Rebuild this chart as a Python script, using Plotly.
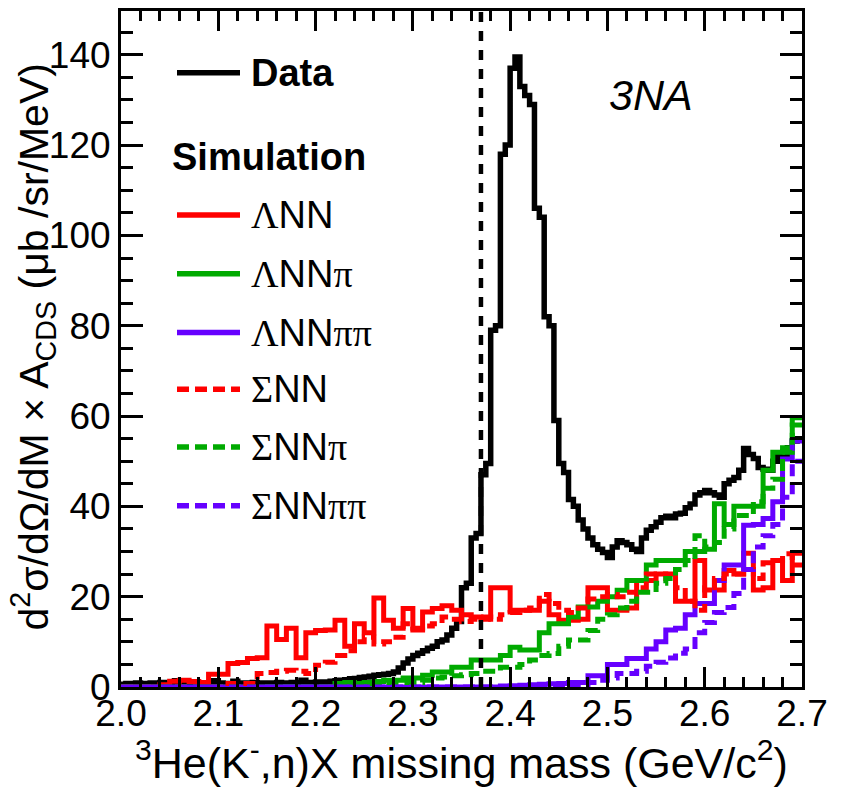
import plotly.graph_objects as go

# Missing-mass window and histogram binning (GeV/c^2)
M_MIN, M_MAX = 2.0, 2.7
DATA_BIN = 0.005
SIM_BIN = 0.010
KPP_THRESHOLD = 2.370  # K- p p mass threshold

# Measured spectrum, 5 MeV bins from 2.000 to 2.700
data_xs = [
    0.6, 0.8, 0.7, 0.9, 0.8, 0.6, 0.9, 0.8, 1.0, 0.7,
    0.8, 1.4, 0.8, 0.7, 0.9, 0.8, 0.9, 0.7, 0.8, 1.4,
    0.9, 0.8, 0.8, 1.3, 0.9, 0.8, 0.9, 1.0, 0.8, 0.9,
    0.8, 0.9, 1.0, 0.9, 0.8, 1.0, 1.0, 1.5, 0.9, 1.0,
    1.1, 1.0, 1.1, 1.3, 1.4, 1.5, 1.6, 1.8, 1.9, 2.1,
    2.2, 2.4, 2.6, 2.7, 2.8, 3.0, 3.3, 4.2, 5.3, 6.2,
    7.0, 7.5, 8.0, 8.6, 9.0, 10.0, 10.4, 11.5, 13.0, 14.5,
    22.0, 23.0, 33.0, 34.0, 47.0, 49.5, 79.0, 80.0, 118.0, 120.0,
    137.0, 139.5, 133.0, 131.0, 129.0, 106.0, 104.0, 82.0, 80.0, 59.0,
    49.5, 47.5, 41.5, 40.0, 37.0, 35.0, 33.0, 31.5, 30.5, 29.8,
    28.7, 31.0, 32.4, 32.0, 31.5, 30.5, 30.0, 33.0, 34.7, 35.5,
    36.5, 37.5, 37.8, 37.5, 38.3, 38.5, 39.7, 40.5, 42.5, 43.0,
    43.5, 43.0, 42.5, 42.0, 45.0, 45.8, 46.4, 48.0, 52.8, 51.5,
    50.6, 48.6, 48.2, 48.0, 50.0, 51.0, 51.5, 53.0, 54.5, 55.0,
]

# Simulated channels, 10 MeV bins from 2.00 to 2.70
lam_nn = [
    0, 0, 0, 0, 0.5, 1.3, 1.5, 1.2, 1.0, 2.8,
    2.8, 5.2, 5.4, 6.3, 6.5, 13.5, 10.5, 13.0, 6.5, 12.0,
    12.5, 12.6, 14.8, 9.0, 14.0, 12.0, 19.7, 14.8, 13.0, 17.4,
    12.6, 16.6, 17.4, 18.0, 17.0, 16.0, 15.5, 15.0, 22.0, 22.0,
    17.0, 17.0, 17.0, 19.0, 16.0, 14.8, 14.8, 15.0, 22.0, 22.0,
    17.0, 17.0, 17.5, 23.6, 23.6, 25.0, 25.0, 19.0, 19.0, 28.0,
    21.5, 21.5, 25.8, 25.0, 29.6, 21.5, 22.0, 28.0, 23.6, 29.6,
]
lam_nn_pi = [
    0, 0, 0, 0, 0, 0, 0, 0, 0, 0,
    0, 0, 0, 0, 0, 0, 0, 0, 0, 0,
    0, 0, 0.8, 1.0, 0.8, 1.0, 1.2, 1.5, 1.5, 2.0,
    2.0, 2.6, 3.3, 3.3, 4.4, 4.4, 6.0, 6.0, 6.0, 7.0,
    8.8, 8.2, 8.2, 12.0, 14.0, 14.0, 15.5, 17.7, 17.7, 19.0,
    20.0, 21.4, 23.6, 23.6, 27.0, 28.0, 28.0, 28.0, 30.0, 30.0,
    30.5, 40.6, 36.0, 40.0, 40.0, 40.0, 48.0, 52.0, 53.0, 59.6,
]
lam_nn_pipi = [
    0, 0, 0, 0, 0, 0, 0, 0, 0, 0,
    0, 0, 0, 0, 0, 0, 0, 0, 0, 0,
    0, 0, 0, 0, 0, 0, 0, 0, 0, 0,
    0, 0, 0, 0, 0, 0, 0, 0, 0, 0.2,
    0.3, 0.4, 0.5, 0.6, 0.7, 0.8, 1.0, 1.0, 2.5, 2.5,
    5.0, 5.0, 6.3, 6.3, 8.4, 10.0, 12.6, 13.0, 16.0, 18.5,
    18.5, 23.6, 27.0, 27.0, 35.8, 36.0, 37.3, 41.0, 50.5, 54.5,
]
sig_nn = [
    0, 0, 0, 0, 0, 0, 0, 0, 0, 0,
    0, 0.8, 0.8, 0.8, 3.0, 3.2, 3.5, 3.7, 3.5, 3.0,
    4.8, 5.5, 7.0, 8.0, 10.0, 11.0, 9.5, 10.0, 11.0, 14.0,
    13.0, 13.5, 14.0, 15.5, 15.0, 14.5, 15.0, 15.5, 15.0, 16.0,
    16.5, 17.0, 17.5, 20.5, 18.5, 17.0, 16.5, 17.5, 19.5, 20.0,
    20.5, 20.0, 21.0, 22.0, 25.0, 25.0, 24.0, 22.0, 19.0, 17.0,
    22.0, 24.0, 25.0, 25.0, 26.0, 24.0, 27.5, 28.0, 29.5, 27.0,
]
sig_nn_pi = [
    0, 0, 0, 0, 0, 0, 0, 0, 0, 0,
    0, 0, 0, 0, 0, 0, 0, 0, 0, 0,
    0, 0, 0, 0.5, 0.7, 0.7, 0.7, 1.0, 1.0, 1.0,
    1.0, 1.5, 2.0, 2.2, 2.5, 2.7, 3.0, 3.5, 3.5, 4.4,
    4.4, 5.0, 6.0, 7.0, 7.4, 9.0, 10.4, 10.4, 12.5, 15.0,
    16.0, 17.5, 19.0, 21.0, 21.0, 23.0, 24.0, 26.0, 28.0, 33.5,
    31.0, 32.0, 35.0, 38.0, 38.0, 41.0, 44.0, 46.0, 52.0, 58.0,
]
sig_nn_pipi = [
    0, 0, 0, 0, 0, 0, 0, 0, 0, 0,
    0, 0, 0, 0, 0, 0, 0, 0, 0, 0,
    0, 0, 0, 0, 0, 0, 0, 0, 0, 0,
    0, 0, 0, 0, 0, 0, 0, 0, 0, 0,
    0, 0, 0, 0, 0, 0, 0.5, 0.5, 1.0, 1.5,
    2.0, 3.0, 3.0, 3.5, 4.6, 5.5, 6.4, 7.5, 8.4, 12.0,
    14.3, 16.5, 17.6, 20.7, 26.0, 31.0, 33.5, 36.0, 42.0, 50.0,
]

RED, GREEN, VIOLET = "#ff0000", "#00aa00", "#6600ff"
SERIF = "Liberation Serif"


def greek(ch):
    return f"<span style='font-family:{SERIF}'>{ch}</span>"


LAM, SIG, PI, PIPI = greek("Λ"), greek("Σ"), greek("π"), greek("ππ")
DASH = "12px,6px"

# name, values, colour, dash
simulations = [
    (f"{LAM}NN", lam_nn, RED, "solid"),
    (f"{LAM}NN{PI}", lam_nn_pi, GREEN, "solid"),
    (f"{LAM}NN{PIPI}", lam_nn_pipi, VIOLET, "solid"),
    (f"{SIG}NN", sig_nn, RED, DASH),
    (f"{SIG}NN{PI}", sig_nn_pi, GREEN, DASH),
    (f"{SIG}NN{PIPI}", sig_nn_pipi, VIOLET, DASH),
]


def step_xy(values, width):
    edges = [round(M_MIN + width * i, 4) for i in range(len(values) + 1)]
    return edges, list(values) + [values[-1]]


fig = go.Figure()

x, y = step_xy(data_xs, DATA_BIN)
fig.add_trace(go.Scatter(x=x, y=y, mode="lines", name="Data",
                         line=dict(shape="hv", color="black", width=5.5),
                         hoverinfo="skip", showlegend=False))

for name, vals, color, dash in simulations:
    x, y = step_xy(vals, SIM_BIN)
    fig.add_trace(go.Scatter(x=x, y=y, mode="lines", name=name,
                             line=dict(shape="hv", color=color, width=5, dash=dash),
                             hoverinfo="skip", showlegend=False))

# threshold marker
fig.add_shape(type="line", xref="x", yref="paper", x0=KPP_THRESHOLD, x1=KPP_THRESHOLD,
              y0=0, y1=1, line=dict(color="black", width=4.5, dash="10px,9px"))

# hand-made legend
PL, PR, PT, PB = 121, 802, 8, 687


def px_x(v):
    return (v - PL) / (PR - PL)


def px_y(v):
    return (PB - v) / (PB - PT)


LEG_FONT = dict(family="Liberation Sans", size=38, color="black")
rows = [("<b>Data</b>", "black", "solid", 70)]
row_y = [213, 272, 331, 388, 446, 505]
for (name, _, color, dash), ry in zip(simulations, row_y):
    rows.append((name, color, dash, ry))

for label, color, dash, ry in rows:
    fig.add_shape(type="line", xref="paper", yref="paper",
                  x0=px_x(177), x1=px_x(240), y0=px_y(ry), y1=px_y(ry),
                  line=dict(color=color, width=5.5, dash=dash))
    fig.add_annotation(xref="paper", yref="paper", x=px_x(249), y=px_y(ry),
                       xanchor="left", yanchor="middle", text=label,
                       showarrow=False, font=LEG_FONT)

fig.add_annotation(xref="paper", yref="paper", x=px_x(170), y=px_y(155),
                   xanchor="left", yanchor="middle", text="<b>Simulation</b>",
                   showarrow=False, font=LEG_FONT)

fig.add_annotation(xref="paper", yref="paper", x=px_x(651), y=px_y(92),
                   xanchor="center", yanchor="middle", text="<i>3NA</i>",
                   showarrow=False,
                   font=dict(family="Liberation Sans", size=43, color="black"))

fig.add_annotation(xref="paper", yref="paper", x=0.5, y=px_y(760),
                   xanchor="center", yanchor="middle",
                   text="<sup>3</sup>He(K<sup>-</sup>,n)X missing mass (GeV/c<sup>2</sup>)",
                   showarrow=False,
                   font=dict(family="Liberation Sans", size=43, color="black"))
fig.add_annotation(xref="paper", yref="paper", x=px_x(33), y=px_y(346),
                   xanchor="center", yanchor="middle", textangle=-90,
                   text="d<sup>2</sup>σ/dΩ/dM × A<sub>CDS</sub> (μb /sr/MeV)",
                   showarrow=False,
                   font=dict(family="Liberation Sans", size=41, color="black"))

TICK_FONT = dict(family="Liberation Sans", size=37, color="black")
fig.update_xaxes(range=[M_MIN, M_MAX], tick0=2.0, dtick=0.1, tickformat=".1f",
                 ticks="inside", ticklen=20, tickwidth=3, tickcolor="black",
                 showline=True, linewidth=3, linecolor="black", mirror="ticks",
                 showgrid=False, zeroline=False, tickfont=TICK_FONT,
                 ticklabelstandoff=-8,
                 minor=dict(ticks="inside", ticklen=10, tickwidth=3, tickcolor="black",
                            dtick=0.02, tick0=2.0, showgrid=False))
fig.update_yaxes(range=[0, 149.7], tick0=0, dtick=20,
                 ticks="inside", ticklen=22, tickwidth=3, tickcolor="black",
                 showline=True, linewidth=3, linecolor="black", mirror="ticks",
                 showgrid=False, zeroline=False, tickfont=TICK_FONT,
                 minor=dict(ticks="inside", ticklen=12, tickwidth=3, tickcolor="black",
                            dtick=5, tick0=0, showgrid=False))

fig.update_layout(width=841, height=787, autosize=False,
                  margin=dict(l=PL, r=841 - PR, t=PT, b=787 - PB),
                  paper_bgcolor="white", plot_bgcolor="white",
                  showlegend=False)

fig.write_html("out.html")
